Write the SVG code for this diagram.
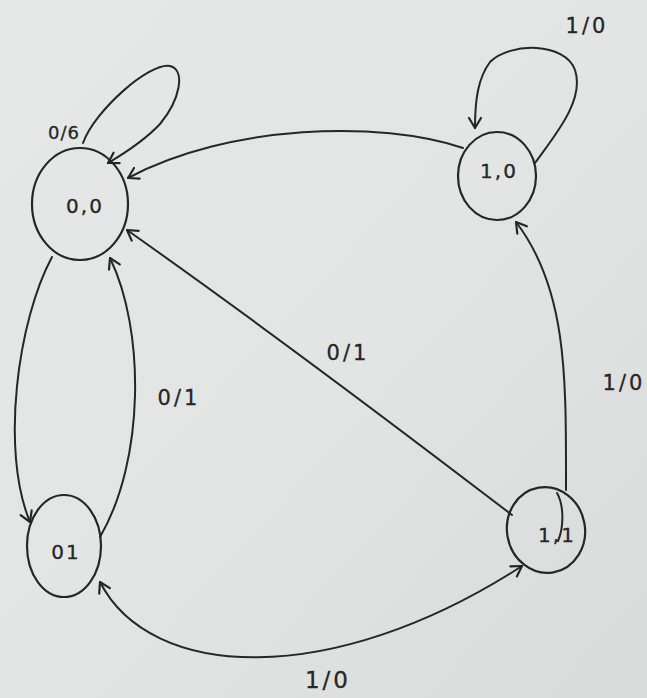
<svg xmlns="http://www.w3.org/2000/svg" width="647" height="698" viewBox="0 0 647 698">
  <defs>
    <linearGradient id="paper" x1="0" y1="0" x2="1" y2="1">
      <stop offset="0" stop-color="#e6e8e7"/>
      <stop offset="0.5" stop-color="#e3e5e4"/>
      <stop offset="1" stop-color="#d9dbda"/>
    </linearGradient>
    <marker id="head" viewBox="-12 -8 14 16" markerWidth="14" markerHeight="16" refX="0" refY="0" orient="auto-start-reverse" markerUnits="userSpaceOnUse">
      <path d="M -10 -6 L 0 0 L -10 6" fill="none" stroke="#262626" stroke-width="2.2" stroke-linecap="round" stroke-linejoin="round"/>
    </marker>
    <style>
      .state { fill: none; stroke: #262626; stroke-width: 2.2; }
      .edge { fill: none; stroke: #262626; stroke-width: 2; stroke-linecap: round; }
      .arrow { marker-end: url(#head); }
      .both { marker-start: url(#head); marker-end: url(#head); }
      .name { font-family: "DejaVu Sans", "Liberation Sans", sans-serif; font-size: 20px; letter-spacing: 2px; fill: #262626; stroke: #262626; stroke-width: 0.3; text-anchor: middle; }
      .label { font-family: "DejaVu Sans", "Liberation Sans", sans-serif; font-size: 21px; letter-spacing: 3px; fill: #262626; stroke: #262626; stroke-width: 0.3; text-anchor: middle; }
      .small { font-size: 18px; letter-spacing: 1px; }
      .big { font-size: 23px; }
    </style>
  </defs>

  <rect x="0" y="0" width="647" height="698" fill="url(#paper)"/>

  <!-- transitions -->
  <g id="connectors">
    <!-- 0,0 self loop -->
    <path class="edge arrow" d="M 83 143 C 95 110, 150 62, 170 66 C 186 70, 180 100, 160 124 C 145 140, 125 153, 108 163"/>
    <!-- 1,0 self loop -->
    <path class="edge arrow" d="M 535 163 C 555 135, 585 100, 575 70 C 565 42, 510 42, 490 62 C 478 78, 475 100, 475 128"/>
    <!-- 1,0 to 0,0 -->
    <path class="edge arrow" d="M 463 148 C 380 120, 230 124, 128 178"/>
    <!-- 1,1 to 0,0 -->
    <path class="edge arrow" d="M 512 515 Q 290 345 127 230"/>
    <!-- 0,1 to 0,0 -->
    <path class="edge arrow" d="M 100 537 C 145 460, 145 330, 110 258"/>
    <!-- 0,0 to 0,1 -->
    <path class="edge arrow" d="M 52 257 C 18 320, 0 450, 30 522"/>
    <!-- 0,1 to 1,1 -->
    <path class="edge both" d="M 100 582 C 150 680, 330 690, 522 566"/>
    <!-- 1,1 to 1,0 -->
    <path class="edge arrow" d="M 566 490 C 566 380, 568 290, 516 222"/>
  </g>

  <g id="s00">
    <ellipse class="state" cx="80" cy="204" rx="48" ry="56"/>
    <text class="name" x="85" y="213">0,0</text>
  </g>
  <g id="s10">
    <ellipse class="state" cx="497" cy="176" rx="39" ry="44"/>
    <text class="name" x="499" y="178">1,0</text>
  </g>
  <g id="s01">
    <ellipse class="state" cx="64" cy="546" rx="37" ry="51"/>
    <text class="name" x="66" y="559">01</text>
  </g>
  <g id="s11">
    <ellipse class="state" cx="546" cy="530" rx="39" ry="43" transform="rotate(-10 546 530)"/>
    <path class="edge" d="M 557 493 C 564 505, 564 527, 558 541"/>
    <text class="name" x="557" y="542">1,1</text>
  </g>

  <g id="labels">
    <text class="label small" x="64" y="139">0/6</text>
    <text class="label" x="587" y="33">1/0</text>
    <text class="label" x="624" y="390">1/0</text>
    <text class="label" x="348" y="360">0/1</text>
    <text class="label" x="179" y="405">0/1</text>
    <text class="label big" x="328" y="688">1/0</text>
  </g>
</svg>
